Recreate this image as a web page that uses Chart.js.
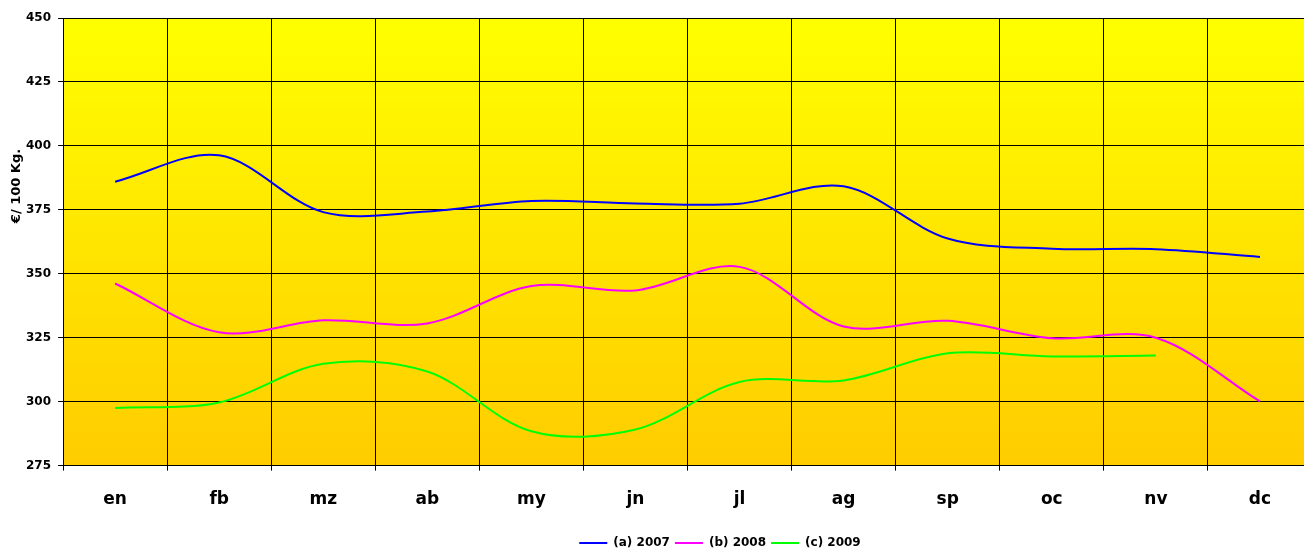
<!DOCTYPE html>
<html>
<head>
<meta charset="utf-8">
<script src="https://cdn.jsdelivr.net/npm/chart.js@4"></script>
<style>
    html, body { margin: 0; padding: 0; background: #fff; overflow: hidden; }
    #wrap { width: 1312px; height: 552px; }
</style>
</head>
<body>
<div id="wrap"><canvas id="chart"></canvas></div>
<script>
const months = ['en', 'fb', 'mz', 'ab', 'my', 'jn', 'jl', 'ag', 'sp', 'oc', 'nv', 'dc']
const seriesNames = ['(a) 2007', '(b) 2008', '(c) 2009']
const prices2007 = [386, 396.3, 374.1, 374.3, 378.5, 377.5, 377.4, 384.2, 363.8, 359.8, 359.6, 356.6]
const prices2008 = [346.2, 327.1, 331.8, 330.6, 345.2, 343.5, 352.7, 329.4, 331.6, 324.8, 325, 300.1]
const prices2009 = [297.5, 299.7, 314.8, 311.8, 288.4, 289.1, 307.7, 308.3, 318.9, 317.7, 318]
const yMin = 275
const yMax = 450
const yStep = 25
const yTitle = '€/ 100 Kg.'

Chart.defaults.font.family = '"DejaVu Sans", sans-serif'
Chart.defaults.font.weight = 'bold'
Chart.defaults.color = '#000'

const legendPad = 5

// yellow gradient behind the plot, axis title, legend moved like the original
const decor = {
    id: 'decor',
    beforeDraw(chart) {
        const { ctx, chartArea: a } = chart
        const g = ctx.createLinearGradient(0, a.top, 0, a.bottom)
        g.addColorStop(0, '#FFFF00')
        g.addColorStop(1, '#FFCC00')
        ctx.save()
        ctx.fillStyle = g
        ctx.fillRect(a.left, a.top, a.right - a.left, a.bottom - a.top)
        ctx.restore()
    },
    afterUpdate(chart) {
        const lg = chart.legend
        const dx = 720 - (lg.left + lg.right) / 2
        lg.left += dx
        lg.right += dx
        const h = lg.bottom - lg.top
        lg.top = 543 - legendPad - 6
        lg.bottom = lg.top + h
    },
    afterDraw(chart) {
        const ctx = chart.ctx
        ctx.save()
        ctx.translate(17, 186)
        ctx.rotate(-Math.PI / 2)
        ctx.font = 'bold 13px "DejaVu Sans"'
        ctx.fillStyle = '#000'
        ctx.textAlign = 'center'
        ctx.textBaseline = 'middle'
        ctx.fillText(yTitle, 0, 0)
        ctx.restore()
    }
}

function line(label, data, color) {
    return {
        label: label,
        data: data,
        borderColor: color,
        backgroundColor: color,
        borderWidth: 2,
        pointRadius: 0,
        fill: false,
        tension: 0.33
    }
}

new Chart(document.getElementById('chart'), {
    type: 'line',
    data: {
        labels: months,
        datasets: [
            line(seriesNames[0], prices2007, '#0000FF'),
            line(seriesNames[1], prices2008, '#FF00FF'),
            line(seriesNames[2], prices2009, '#00FF00')
        ]
    },
    options: {
        responsive: true,
        maintainAspectRatio: false,
        animation: false,
        layout: { padding: { left: 19, top: 18, right: 0, bottom: -4 } },
        scales: {
            x: {
                offset: true,
                grid: { color: '#000', lineWidth: 1, tickLength: 5, offset: true },
                border: { color: '#000', width: 1 },
                ticks: { font: { size: 17, weight: 'bold' }, padding: 19, color: '#000' }
            },
            y: {
                min: yMin,
                max: yMax,
                grid: { color: '#000', lineWidth: 1, tickLength: 5 },
                border: { color: '#000', width: 1 },
                ticks: { stepSize: yStep, font: { size: 12, weight: 'bold' }, padding: 7, color: '#000' }
            }
        },
        plugins: {
            legend: {
                position: 'bottom',
                labels: {
                    usePointStyle: true,
                    pointStyle: 'line',
                    pointStyleWidth: 28,
                    padding: legendPad,
                    font: { size: 12, weight: 'bold' },
                    color: '#000'
                }
            },
            tooltip: { enabled: false }
        }
    },
    plugins: [decor]
})
</script>
</body>
</html>
